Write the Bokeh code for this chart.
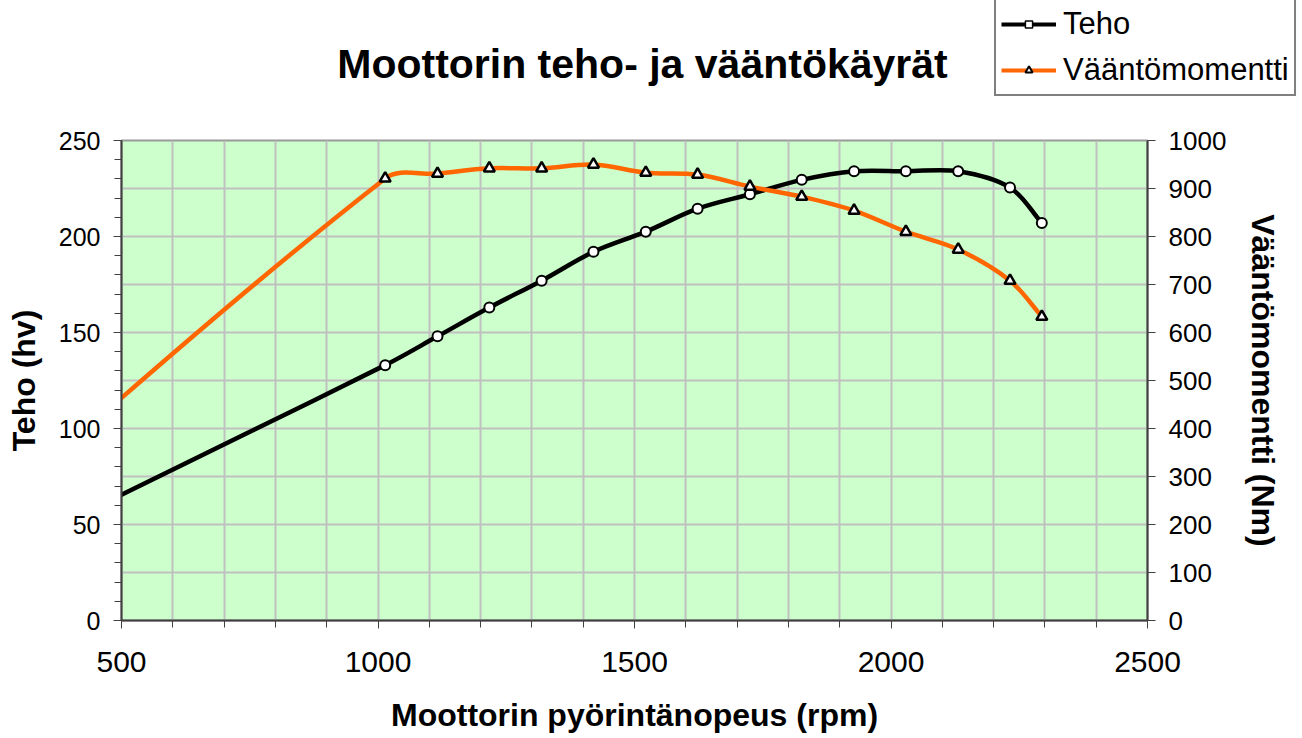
import math
from bokeh.plotting import figure
from bokeh.layouts import column
from bokeh.models import (Range1d, LinearAxis, SingleIntervalTicker, Legend,
                          LegendItem, Label, ColumnDataSource)
from bokeh.embed import file_html
from bokeh.resources import INLINE

# ---- data ----
rpm = [0, 1014, 1116, 1217, 1319, 1420, 1522, 1623, 1725, 1826, 1928, 2029, 2131, 2232, 2294]
teho = [0, 133, 148, 163, 177, 192, 202.5, 214.5, 222, 229.5, 234, 234, 234, 225.5, 207]
vaanto = [0, 921, 931, 942, 942, 950, 933, 929, 904, 883, 854, 810, 773, 708, 633]

title_text = "Moottorin teho- ja vääntökäyrät"
x_label = "Moottorin pyörintänopeus (rpm)"
y_label = "Teho (hv)"
y2_label = "Vääntömomentti (Nm)"
series_names = ["Teho", "Vääntömomentti"]

X_MIN, X_MAX = 500, 2500
Y_MAX, Y2_MAX = 250, 1000
FRAME_W, FRAME_H = 1026, 480
FONT = "Liberation Sans"
W, H = 1302, 738
HEADER_H = 126

BLACK = "#000000"
ORANGE = "#FF6600"
NAN = float("nan")


def smooth_segments(xs, ys, kx, ky):
    """Excel-like smoothed line as cubic bezier segments (control points
    computed in screen-proportional space)."""
    P = [(x * kx, y * ky) for x, y in zip(xs, ys)]
    n = len(P)
    out = {k: [] for k in ("x0", "y0", "x1", "y1", "cx0", "cy0", "cx1", "cy1")}

    def unit(a, b):
        dx, dy = b[0] - a[0], b[1] - a[1]
        d = math.hypot(dx, dy) or 1.0
        return dx / d, dy / d

    for i in range(n - 1):
        p0 = P[i - 1] if i > 0 else P[i]
        p1, p2 = P[i], P[i + 1]
        p3 = P[i + 2] if i + 2 < n else P[i + 1]
        d12 = math.hypot(p2[0] - p1[0], p2[1] - p1[1])
        t1 = unit(p0, p2)
        t2 = unit(p1, p3)
        c1 = (p1[0] + t1[0] * d12 / 3, p1[1] + t1[1] * d12 / 3)
        c2 = (p2[0] - t2[0] * d12 / 3, p2[1] - t2[1] * d12 / 3)
        out["x0"].append(p1[0] / kx); out["y0"].append(p1[1] / ky)
        out["x1"].append(p2[0] / kx); out["y1"].append(p2[1] / ky)
        out["cx0"].append(c1[0] / kx); out["cy0"].append(c1[1] / ky)
        out["cx1"].append(c2[0] / kx); out["cy1"].append(c2[1] / ky)
    return out


# ---------------- header (title + legend) ----------------
hdr = figure(width=W, height=HEADER_H, output_backend="svg", toolbar_location=None,
             x_range=Range1d(0, W), y_range=Range1d(0, HEADER_H),
             x_axis_type=None, y_axis_type=None, tools="", min_border=0,
             min_border_left=0, min_border_right=0, min_border_top=0, min_border_bottom=0)
hdr.frame_align = False
hdr.outline_line_color = None
hdr.grid.visible = False
hdr.background_fill_color = "white"
hdr.border_fill_color = "white"

# legend-only glyphs (no visible data)
lg1 = hdr.line(x=[NAN], y=[NAN], line_color=BLACK, line_width=4)
mg1 = hdr.scatter(x=[NAN], y=[NAN], marker="square", fill_color="white", line_color=BLACK, line_width=1.5)
lg2 = hdr.line(x=[NAN], y=[NAN], line_color=ORANGE, line_width=4)
mg2 = hdr.scatter(x=[NAN], y=[NAN], marker="triangle", fill_color="white", line_color=BLACK, line_width=2)

legend = Legend(items=[LegendItem(label=series_names[0], renderers=[lg1, mg1]),
                       LegendItem(label=series_names[1], renderers=[lg2, mg2])],
                location=(994, 30))
legend.label_text_font = FONT
legend.label_text_font_size = "31px"
legend.label_text_color = "black"
legend.glyph_width = 55
legend.glyph_height = 18
legend.label_height = 38
legend.label_standoff = 7
legend.spacing = 8
legend.padding = 5
legend.margin = 0
legend.border_line_color = "black"
legend.border_line_width = 2
legend.background_fill_color = "white"
legend.background_fill_alpha = 1.0
hdr.add_layout(legend)

title = Label(x=642, y=HEADER_H - 63, x_units="screen", y_units="screen", text=title_text,
              text_align="center", text_baseline="alphabetic", text_font=FONT,
              text_font_style="bold", text_font_size="41px", text_color="black")
hdr.add_layout(title)

# ---------------- main chart ----------------
p = figure(width=W, height=H - HEADER_H, output_backend="svg", toolbar_location=None,
           x_range=Range1d(X_MIN, X_MAX), y_range=Range1d(0, Y_MAX),
           min_border_left=121, min_border_right=155, min_border_top=14,
           min_border_bottom=118, tools="")
p.frame_align = False
p.extra_y_ranges = {"torque": Range1d(0, Y2_MAX)}

p.background_fill_color = "#CCFFCC"
p.border_fill_color = "white"
p.outline_line_color = "#999999"
p.outline_line_width = 2

p.xgrid.ticker = SingleIntervalTicker(interval=100)
p.ygrid.ticker = SingleIntervalTicker(interval=25)
for g in (p.xgrid, p.ygrid):
    g.grid_line_color = "#C0C0C0"
    g.grid_line_width = 2

xa = p.xaxis[0]
xa.ticker = SingleIntervalTicker(interval=500, num_minor_ticks=5)
xa.axis_line_color = "#404040"
xa.axis_line_width = 2
xa.major_tick_in = 0
xa.major_tick_out = 8
xa.minor_tick_in = 0
xa.minor_tick_out = 7
xa.major_tick_line_color = "#404040"
xa.minor_tick_line_color = "#404040"
xa.major_label_text_font = FONT
xa.major_label_text_font_size = "30px"
xa.major_label_text_color = "black"
xa.major_label_standoff = 23
xa.axis_label = x_label
xa.axis_label_text_font = FONT
xa.axis_label_text_font_style = "bold"
xa.axis_label_text_font_size = "32px"
xa.axis_label_text_color = "black"
xa.axis_label_standoff = 22

ya = p.yaxis[0]
ya.ticker = SingleIntervalTicker(interval=50, num_minor_ticks=5)
ya.axis_line_color = "#404040"
ya.axis_line_width = 2
ya.major_tick_in = 0
ya.major_tick_out = 8
ya.minor_tick_in = 0
ya.minor_tick_out = 7
ya.major_tick_line_color = "#404040"
ya.minor_tick_line_color = "#404040"
ya.major_label_text_font = FONT
ya.major_label_text_font_size = "25px"
ya.major_label_text_color = "black"
ya.major_label_standoff = 13
ya.axis_label = y_label
ya.axis_label_text_font = FONT
ya.axis_label_text_font_style = "bold"
ya.axis_label_text_font_size = "32px"
ya.axis_label_text_color = "black"
ya.axis_label_standoff = 14

ra = LinearAxis(y_range_name="torque", ticker=SingleIntervalTicker(interval=100, num_minor_ticks=0))
ra.axis_line_color = "#404040"
ra.axis_line_width = 2
ra.major_tick_in = 0
ra.major_tick_out = 8
ra.minor_tick_in = 0
ra.minor_tick_out = 0
ra.major_tick_line_color = "#404040"
ra.major_label_text_font = FONT
ra.major_label_text_font_size = "26px"
ra.major_label_text_color = "black"
ra.major_label_standoff = 13
ra.axis_label = y2_label
ra.axis_label_text_font = FONT
ra.axis_label_text_font_style = "bold"
ra.axis_label_text_font_size = "32px"
ra.axis_label_text_color = "black"
ra.axis_label_standoff = 16
p.add_layout(ra, "right")

kx = FRAME_W / (X_MAX - X_MIN)
ky1 = FRAME_H / Y_MAX
ky2 = FRAME_H / Y2_MAX

s1 = ColumnDataSource(smooth_segments(rpm, teho, kx, ky1))
p.bezier(x0="x0", y0="y0", x1="x1", y1="y1", cx0="cx0", cy0="cy0", cx1="cx1", cy1="cy1",
         source=s1, line_color=BLACK, line_width=4.5, line_cap="round")
p.scatter(rpm, teho, marker="circle", size=10, fill_color="white",
          line_color=BLACK, line_width=2)

s2 = ColumnDataSource(smooth_segments(rpm, vaanto, kx, ky2))
p.bezier(x0="x0", y0="y0", x1="x1", y1="y1", cx0="cx0", cy0="cy0", cx1="cx1", cy1="cy1",
         source=s2, line_color=ORANGE, line_width=4.5, line_cap="round", y_range_name="torque")
p.scatter(rpm, vaanto, marker="triangle", size=11, fill_color="white",
          line_color=BLACK, line_width=2.5, y_range_name="torque")

layout = column(hdr, p, spacing=0)
open("out.html", "w").write(file_html(layout, INLINE))
